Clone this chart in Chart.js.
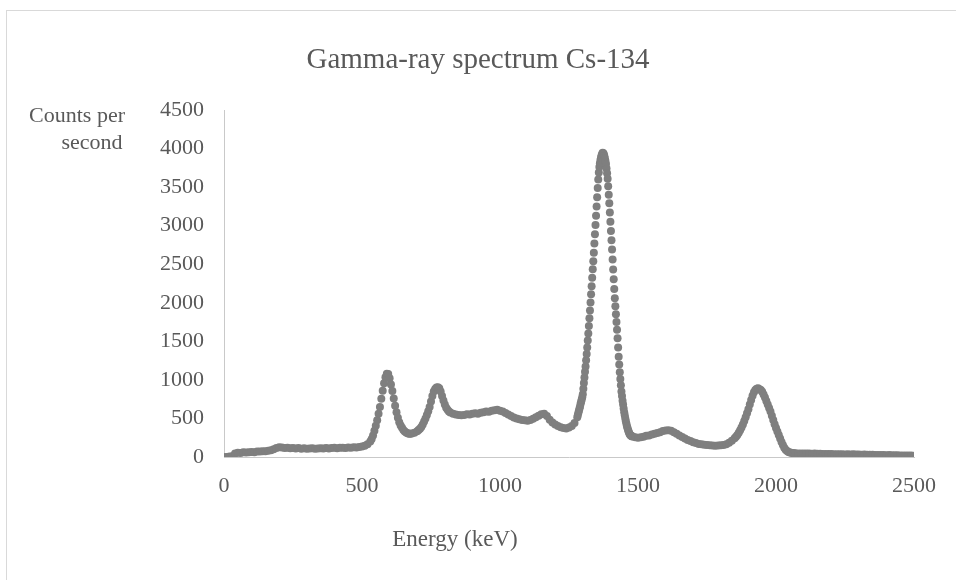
<!DOCTYPE html>
<html>
<head>
<meta charset="utf-8">
<script src="https://cdn.jsdelivr.net/npm/chart.js@4"></script>
<style>
body{margin:0;background:#fff;}
</style>
</head>
<body>
<canvas id="grafico" width="956" height="580"></canvas>
<script>
const title = "Gamma-ray spectrum Cs-134";
const xTitle = "Energy (keV)";
const yTitle = ["Counts per", "second"];
const xTicks = [0, 500, 1000, 1500, 2000, 2500];
const yTicks = [0, 500, 1000, 1500, 2000, 2500, 3000, 3500, 4000, 4500];

// energy of each point (keV), denser where the curve is steep
const energy = [
  0,10,20,30,40,50,60,70,80,90,
  100,110,120,130,140,150,160,170,180,190,
  200,210,220,230,240,250,260,270,280,290,
  300,310,320,330,340,350,360,370,380,390,
  400,410,420,430,440,450,460,470,480,490,
  500,510,520,530,
  535,540,545,550,555,560,565,570,575,580,
  585,590,595,600,605,610,615,620,625,630,
  635,640,645,650,655,660,665,670,675,680,
  690,700,
  705,710,715,720,725,730,735,740,745,750,
  755,760,765,770,775,780,785,790,795,800,
  805,810,815,820,
  830,840,850,860,870,880,890,900,910,920,
  930,940,950,960,970,980,990,1000,1010,1020,
  1030,1040,1050,1060,1070,1080,1090,1100,1110,1120,
  1130,1140,1150,1160,1170,1180,1190,1200,1210,1220,
  1230,1240,1250,1260,1270,1280,
  1282,1284,1286,1288,1290,1292,1294,1296,1298,1300,
  1302,1304,1306,1308,1310,1312,1314,1316,1318,1320,
  1322,1324,1326,1328,1330,1332,1334,1336,1338,1340,
  1342,1344,1346,1348,1350,1352,1354,1356,1358,1360,
  1362,1364,1366,1368,1370,1372,1374,1376,1378,1380,
  1382,1384,1386,1388,1390,1392,1394,1396,1398,1400,
  1402,1404,1406,1408,1410,1412,1414,1416,1418,1420,
  1422,1424,1426,1428,1430,1432,1434,1436,1438,1440,
  1442,1444,1446,1448,1450,1452,1454,1456,1458,1460,
  1462,1464,1466,1468,1470,1472,1474,1476,1478,1480,
  1490,1500,1510,1520,1530,1540,1550,1560,1570,1580,
  1590,1600,1610,1620,1630,1640,1650,1660,1670,1680,
  1690,1700,1710,1720,1730,1740,1750,1760,1770,1780,
  1790,1800,1810,1820,1830,1840,1850,
  1855,1860,1865,1870,1875,1880,1885,1890,1895,1900,
  1905,1910,1915,1920,1925,1930,1935,1940,1945,1950,
  1955,1960,1965,1970,1975,1980,1985,1990,1995,2000,
  2005,2010,2015,2020,2025,2030,2035,2040,2045,2050,
  2055,2060,2065,2070,
  2080,2090,2100,2110,2120,2130,2140,2150,2160,2170,
  2180,2190,2200,2210,2220,2230,2240,2250,2260,2270,
  2280,2290,2300,2310,2320,2330,2340,2350,2360,2370,
  2380,2390,2400,2410,2420,2430,2440,2450,2460,2470,
  2480,2490,2500
];

// counts per second, same order as energy
const counts = [
  0,0,5,10,45,55,52,60,58,62,
  66,63,70,72,76,74,80,88,100,118,
  128,124,118,120,113,118,110,116,108,113,
  106,111,114,107,111,113,109,116,111,116,
  119,114,119,121,117,123,120,126,124,131,
  136,146,166,200,
  235,280,340,405,475,560,650,755,860,955,
  1035,1080,1075,1020,940,855,760,665,580,510,
  450,410,378,350,332,318,308,302,300,306,
  316,334,
  350,366,390,420,460,500,545,592,650,720,
  790,850,882,900,906,890,850,792,732,682,
  640,612,590,576,
  562,550,546,540,546,556,550,561,566,560,
  575,581,590,586,600,606,612,601,590,571,
  551,531,511,500,491,480,476,470,481,495,
  516,536,556,562,532,482,446,420,401,386,
  376,370,381,401,441,515,
  545,575,600,630,655,690,715,745,775,815,
  885,960,1030,1105,1175,1255,1335,1420,1510,1600,
  1700,1800,1900,2005,2110,2215,2325,2435,2540,2650,
  2770,2890,3010,3130,3250,3370,3490,3600,3690,3760,
  3810,3850,3885,3910,3930,3945,3940,3930,3905,3875,
  3840,3800,3740,3680,3610,3510,3400,3290,3170,3050,
  2930,2810,2690,2560,2430,2305,2180,2060,1955,1850,
  1750,1650,1540,1420,1300,1200,1100,1010,930,850,
  790,730,680,630,580,540,500,465,430,400,
  375,350,330,310,295,285,278,272,268,265,
  256,250,256,264,276,280,291,300,311,320,
  336,345,346,340,320,301,280,260,241,221,
  206,191,181,170,166,160,156,151,148,146,
  148,151,156,166,186,211,242,
  262,286,316,346,381,421,466,516,566,620,
  680,740,795,840,870,885,890,880,870,845,
  810,770,725,680,635,590,535,480,425,375,
  330,285,240,195,155,120,95,78,66,58,
  54,51,49,48,
  47,46,45,46,44,43,44,42,41,40,
  40,38,39,37,36,37,35,34,35,33,
  35,32,31,30,31,29,28,29,27,26,
  26,25,24,25,23,22,23,21,20,20,
  19,18,17
];

const font = "'Liberation Serif', 'Times New Roman', serif";
const textColor = "#595959";
const axisColor = "#c9c9c9";

const points = energy.map((e, i) => ({x: e, y: counts[i]}));

// frame, chart title and axis titles, placed where the picture has them
const extras = {
  id: "extras",
  afterDraw(chart){
    const ctx = chart.ctx;
    ctx.save();
    ctx.strokeStyle = "#d9d9d9";
    ctx.lineWidth = 1;
    ctx.strokeRect(6.5, 10.5, 960, 600);
    ctx.fillStyle = textColor;
    ctx.textAlign = "center";
    ctx.textBaseline = "middle";
    ctx.font = "29px " + font;
    ctx.fillText(title, 478, 60);
    ctx.font = "22px " + font;
    ctx.fillText(yTitle[0], 77, 116);
    ctx.fillText(yTitle[1], 92, 143);
    ctx.font = "23px " + font;
    ctx.fillText(xTitle, 455, 540);
    ctx.restore();
  }
};

new Chart(document.getElementById("grafico"), {
  type: "scatter",
  data: {
    datasets: [{
      label: "Cs-134",
      data: points,
      backgroundColor: "#7f7f7f",
      borderWidth: 0,
      pointRadius: 4,
      pointHoverRadius: 4
    }]
  },
  options: {
    responsive: false,
    animation: false,
    layout: {padding: {left: 0, right: 42, top: 110, bottom: 0}},
    plugins: {
      legend: {display: false},
      tooltip: {enabled: false},
      title: {display: false}
    },
    scales: {
      x: {
        type: "linear",
        min: 0,
        max: 2500,
        afterBuildTicks: s => { s.ticks = xTicks.map(v => ({value: v})); },
        afterFit: s => { s.height = 123; },
        grid: {display: false, drawTicks: false},
        border: {display: true, color: axisColor},
        ticks: {color: textColor, font: {family: font, size: 22}, padding: 16, callback: v => String(v)}
      },
      y: {
        min: 0,
        max: 4500,
        afterBuildTicks: s => { s.ticks = yTicks.map(v => ({value: v})); },
        afterFit: s => { s.width = 224; },
        grid: {display: false, drawTicks: false},
        border: {display: true, color: axisColor},
        ticks: {color: textColor, font: {family: font, size: 22}, padding: 20, callback: v => String(v)}
      }
    }
  },
  plugins: [extras]
});
</script>
</body>
</html>
